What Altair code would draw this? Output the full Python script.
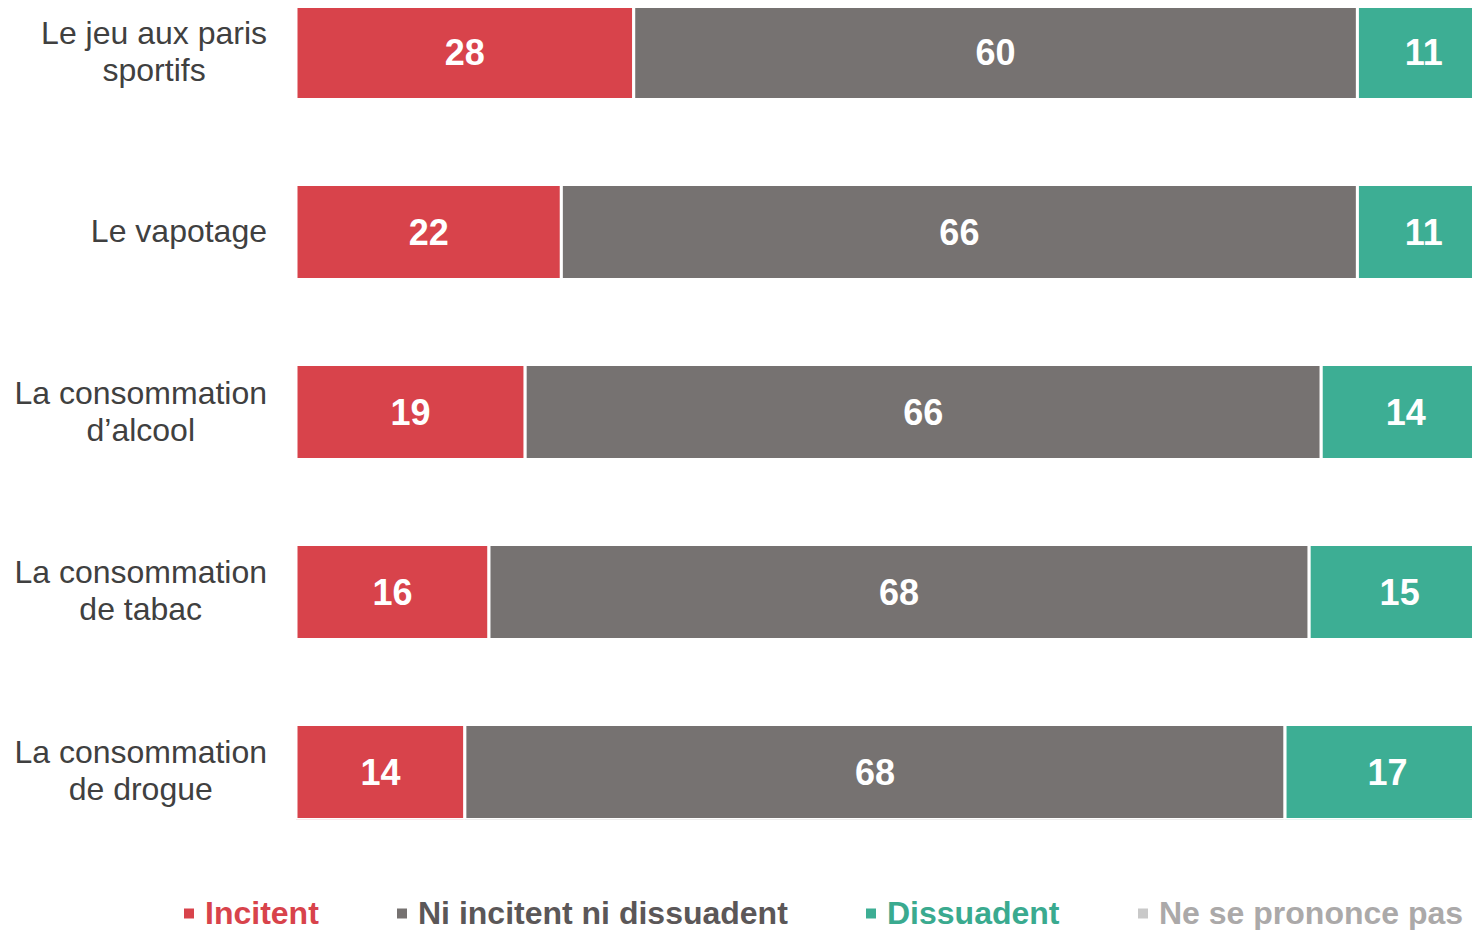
import altair as alt
import pandas as pd

# ---- data ----
categories = [
    "Le jeu aux paris\nsportifs",
    "Le vapotage",
    "La consommation\nd\u2019alcool",
    "La consommation\nde tabac",
    "La consommation\nde drogue",
]
series = ["Incitent", "Ni incitent ni dissuadent", "Dissuadent", "Ne se prononce pas"]
incitent = [28, 22, 19, 16, 14]
ni_incitent = [60, 66, 66, 68, 68]
dissuadent = [11, 11, 14, 15, 17]
ne_se_prononce = [1, 1, 1, 1, 1]

bar_colors = ["#D8434B", "#767271", "#3DAE94", "#C9C9C9"]
label_colors = ["#D8434B", "#5B5758", "#3AAA8F", "#ABA9A9"]

FONT = "Liberation Sans"
LABEL_SIZE = 32
LINE_HEIGHT = 37
PLOT_H = 815
PAD_INNER = 0.472
BAND = PLOT_H / (len(categories) - PAD_INNER) * (1 - PAD_INNER)

# Arial / Liberation Sans advance widths (1/1000 em) for centring multi-line labels
ARIAL = {" ": 278, "a": 556, "b": 556, "c": 500, "d": 556, "e": 556, "f": 278, "g": 556,
         "h": 556, "i": 222, "j": 222, "k": 500, "l": 222, "m": 833, "n": 556, "o": 556,
         "p": 556, "q": 556, "r": 333, "s": 500, "t": 278, "u": 556, "v": 500, "w": 722,
         "x": 500, "y": 500, "z": 500, "L": 556, "\u2019": 222}


def text_width(s, size):
    return sum(ARIAL.get(ch, 556) for ch in s) * size / 1000.0


# ---- tables ----
rows = []
values_by_series = [incitent, ni_incitent, dissuadent, ne_se_prononce]
for ci, cat in enumerate(categories):
    start = 0.0
    for si, s in enumerate(series):
        v = values_by_series[si][ci]
        rows.append({"cat": cat, "series": s, "order": si, "value": v,
                     "start": start, "end": start + v, "mid": start + v / 2.0,
                     "show": si < 3})
        start += v
df = pd.DataFrame(rows)

label_right = -29  # label block right edge, relative to plot origin
lab = pd.DataFrame({
    "cat": categories,
    "lx": [label_right - max(text_width(line, LABEL_SIZE) for line in c.split("\n")) / 2.0
           for c in categories],
    "ly": [BAND / 2.0 - (len(c.split("\n")) - 1) * LINE_HEIGHT / 2.0 for c in categories],
})

yscale = alt.Scale(domain=categories, paddingInner=PAD_INNER, paddingOuter=0)
xscale = alt.Scale(domain=[0, 97.5], nice=False, zero=True)

color_expr = " : ".join(
    f"datum.value == '{s}' ? '{c}'" for s, c in zip(series[:-1], label_colors[:-1])
) + f" : '{label_colors[-1]}'"

bars = alt.Chart(df).mark_bar(clip=True, stroke="white", strokeWidth=3).encode(
    x=alt.X("start:Q", scale=xscale, axis=None),
    x2="end:Q",
    y=alt.Y("cat:N", sort=categories, axis=None, scale=yscale),
    color=alt.Color(
        "series:N",
        sort=series,
        scale=alt.Scale(domain=series, range=bar_colors),
        legend=alt.Legend(
            orient="none", legendX=-123, legendY=893, direction="horizontal", columns=4,
            title=None, symbolType="square", symbolSize=100, symbolStrokeWidth=0,
            labelFont=FONT, labelFontSize=32, labelFontWeight="bold",
            labelColor={"expr": color_expr}, labelOffset=0, columnPadding=67,
            labelLimit=600, padding=0,
        ),
    ),
    order=alt.Order("order:Q"),
)

values = alt.Chart(df).transform_filter("datum.show").mark_text(
    font=FONT, fontSize=36, fontWeight="bold", color="white", align="center",
    baseline="middle", dy=2,
).encode(
    x=alt.X("mid:Q", scale=xscale, axis=None),
    y=alt.Y("cat:N", sort=categories, axis=None, scale=yscale),
    text=alt.Text("value:Q"),
)

ylabels = alt.Chart(lab).mark_text(
    font=FONT, fontSize=LABEL_SIZE, color="#404040", align="center", baseline="middle",
    lineBreak="\n", lineHeight=LINE_HEIGHT,
).encode(
    x=alt.X("lx:Q", scale=None),
    y=alt.Y("cat:N", sort=categories, axis=None, scale=yscale),
    yOffset=alt.YOffset("ly:Q", scale=None),
    text="cat:N",
)

chart = alt.layer(bars, values, ylabels).properties(
    width=1176, height=PLOT_H,
    autosize=alt.AutoSizeParams(type="none"),
    padding={"left": 288, "top": -3.5, "right": 0, "bottom": 112},
).configure_view(stroke=None)

chart.save("out.html", embed_options={"renderer": "svg", "actions": False})
